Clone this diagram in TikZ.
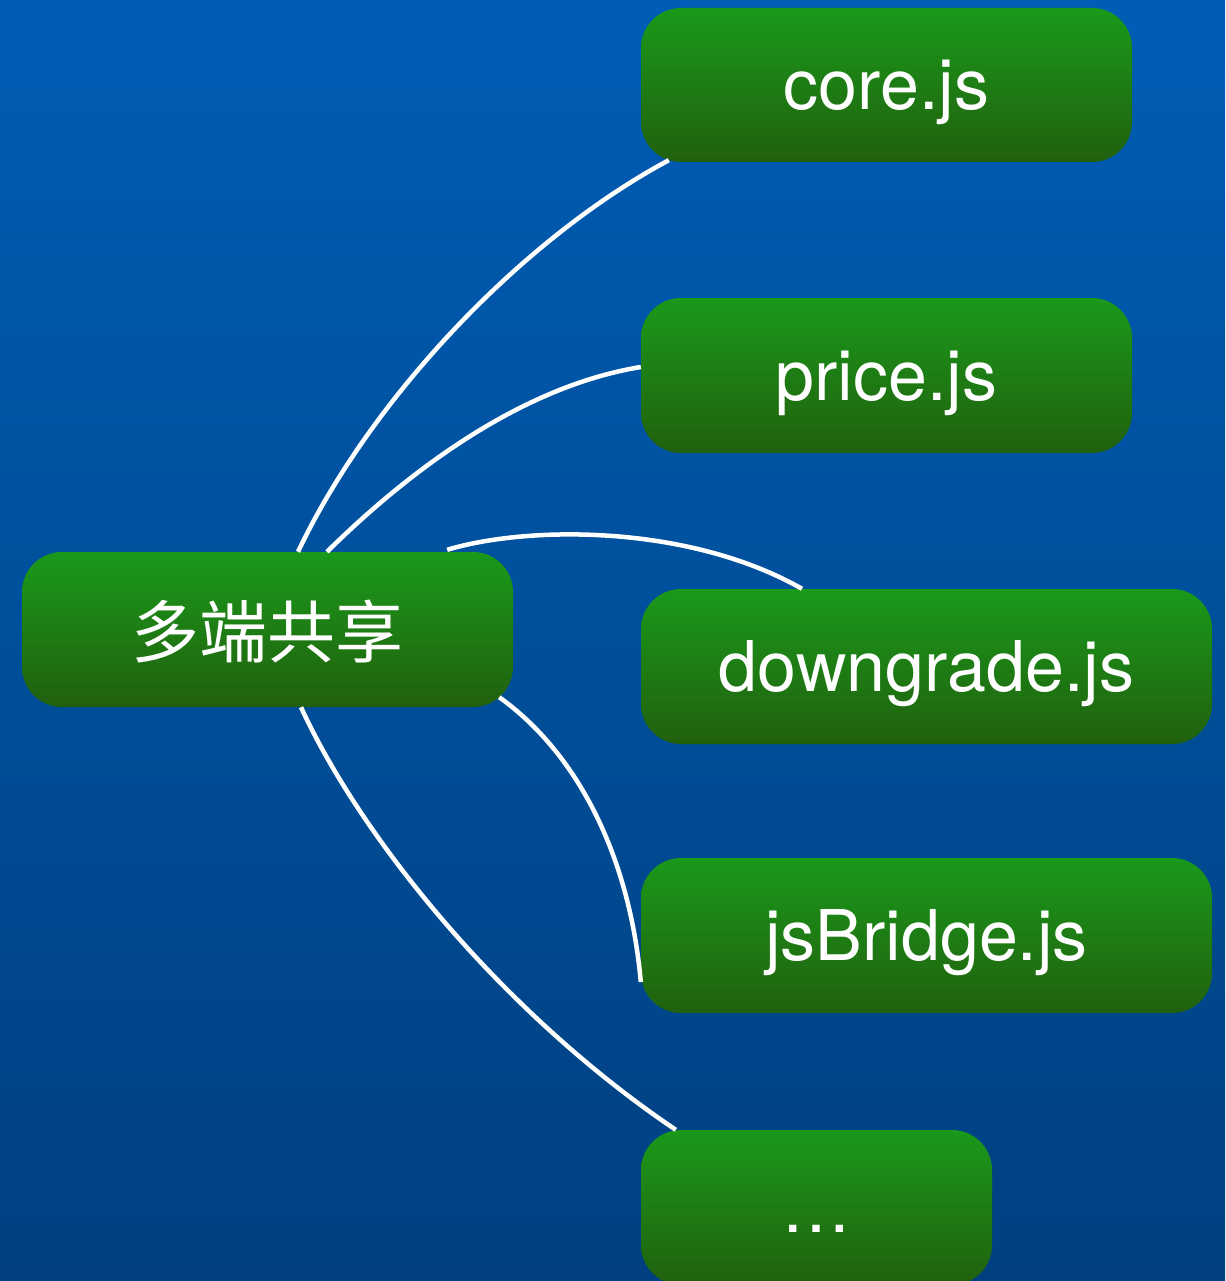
\documentclass[tikz,border=0pt]{standalone}
\usepackage{fontspec}
\setmainfont{TeX Gyre Heros}
\newfontfamily\cjk{Noto Sans CJK SC}
\usetikzlibrary{calc}
\definecolor{bgtop}{RGB}{0,93,181}
\definecolor{bgbot}{RGB}{0,64,128}
\definecolor{gtop}{RGB}{26,153,26}
\definecolor{gbot}{RGB}{33,96,14}
\begin{document}
\begin{tikzpicture}[x=1pt,y=-1pt,
  box/.style={rectangle, rounded corners=40pt, top color=gtop, bottom color=gbot,
    text=white, inner sep=0pt, minimum height=155pt,
    font=\fontsize{70}{74}\selectfont, text height=50pt, text depth=0pt},
  link/.style={draw=white, line width=4.5pt}]
\clip (0,0) rectangle (1225,1281);
\shade[top color=bgtop, bottom color=bgbot] (0,0) rectangle (1225,1281);

\node[box, minimum width=491pt, font=\cjk\fontsize{68}{72}\selectfont, text height=56pt] (share) at (267.5,629.5) {多端共享};
\node[box, minimum width=491pt, minimum height=154pt] (core) at (886.5,85) {core.js};
\node[box, minimum width=491pt] (price) at (886.5,375.5) {price.js};
\node[box, minimum width=571pt] (downgrade) at (926.5,666.5) {downgrade.js};
\node[box, minimum width=571pt] (jsbridge) at (926.5,935.5) {jsBridge.js};
\node[box, minimum width=351pt] (etc) at (816.5,1207.5) {…};

\draw[link] ($(share.north)+(30.5,0)$) .. controls (370,400) and (520,240) .. ($(core.south west)+(28,-2)$);
\draw[link] ($(share.north)+(59.5,0)$) .. controls (420,460) and (530,385) .. ($(price.west)+(0,-8.5)$);
\draw[link] ($(share.north east)+(-66,-2)$) .. controls (530,525) and (690,525) .. ($(downgrade.north)+(-124.5,0)$);
\draw[link] ($(share.south east)+(-14,-10)$) .. controls (580,755) and (630,860) .. ($(jsbridge.west)+(0,46.5)$);
\draw[link] ($(share.south)+(33.5,0)$) .. controls (362,840) and (505,1015) .. ($(etc.north west)+(35,0)$);
\end{tikzpicture}
\end{document}
